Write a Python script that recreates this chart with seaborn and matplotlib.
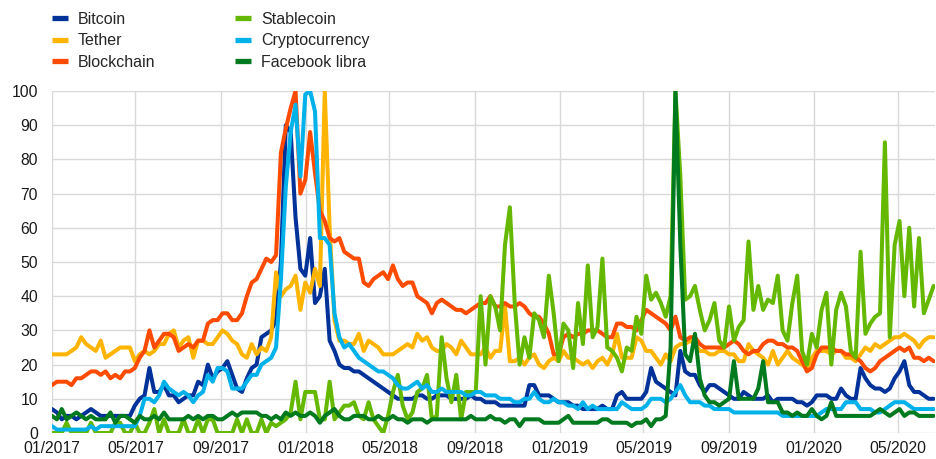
import pandas as pd
import seaborn as sns
import matplotlib
matplotlib.use('Agg')
import matplotlib.pyplot as plt
import matplotlib.dates as mdates
from matplotlib.lines import Line2D

# weekly search interest, 01/2017 - 06/2020 (index, max = 100)
weeks = pd.date_range('2017-01-01', periods=182, freq='W-SUN')

bitcoin = [7,6,4,5,5,4,5,6,7,6,
           5,5,5,5,5,5,5,8,10,11,
           19,12,12,14,11,11,9,10,11,11,
           15,14,20,16,18,19,21,17,13,12,
           16,19,20,28,29,30,33,50,90,88,
           63,48,46,57,38,40,48,27,24,20,
           19,19,18,18,17,16,15,14,13,12,
           11,10,10,10,10,11,11,10,10,11,
           11,11,10,10,10,10,11,10,10,9,
           9,9,8,8,8,8,8,8,14,14,
           11,11,11,10,9,9,9,8,8,7,
           7,7,7,8,7,7,11,12,10,10,
           10,10,12,19,15,14,13,12,11,24,
           18,17,17,14,12,14,14,13,12,11,
           10,10,12,11,10,10,10,11,9,10,
           10,10,10,9,9,8,9,11,11,11,
           10,10,13,11,10,10,19,16,14,13,
           13,12,13,16,18,21,14,12,12,11,10,10]

tether = [23,23,23,23,24,25,28,26,25,24,
          27,22,23,24,25,25,25,21,23,24,
          23,24,26,26,29,30,25,27,28,22,
          27,27,26,26,28,30,29,27,26,23,
          22,26,23,25,24,28,47,40,42,43,
          46,36,44,41,48,43,100,60,33,27,
          27,26,26,29,24,27,26,25,23,23,
          23,24,25,26,25,29,27,28,25,24,
          24,26,25,23,27,25,23,23,23,25,
          22,24,24,37,21,21,22,20,22,23,
          20,19,21,22,21,24,22,22,21,20,
          21,19,21,22,20,23,29,22,22,22,
          28,27,24,24,22,20,23,21,25,26,
          26,27,26,24,24,23,23,24,24,23,
          23,21,21,26,24,23,22,20,24,20,
          22,24,22,21,20,19,22,24,24,24,
          23,24,24,22,22,21,23,25,24,26,
          25,26,27,28,28,29,28,27,25,27,28,28]

blockchain = [14,15,15,15,14,16,16,17,18,18,
              17,18,16,17,16,18,18,19,22,24,
              30,25,27,29,29,28,24,25,26,25,
              27,27,32,33,33,35,35,33,33,35,
              40,44,45,48,51,50,52,82,89,95,
              100,70,74,88,76,65,62,57,56,57,
              53,52,51,51,44,43,45,46,47,45,
              49,45,43,44,44,40,39,38,35,38,
              39,38,37,36,36,35,36,37,38,38,
              40,37,37,38,37,37,38,37,35,34,
              34,32,29,23,23,28,29,28,29,29,
              30,30,30,29,28,28,32,32,31,31,
              30,33,36,35,34,33,32,30,34,28,
              27,28,28,26,25,25,25,25,25,26,
              27,26,24,23,24,24,26,27,27,26,
              26,25,25,24,21,18,19,23,25,25,
              25,24,24,23,23,22,21,19,18,19,
              21,22,23,24,25,24,25,22,22,21,22,21]

stablecoin = [0,0,0,3,0,0,0,0,3,0,
              0,0,0,3,3,0,0,3,0,0,
              3,7,0,4,0,0,0,4,0,0,
              4,0,4,4,0,0,0,0,4,0,
              4,0,0,4,0,3,2,3,4,6,
              15,4,12,12,12,4,4,15,4,6,
              8,8,9,5,4,9,4,2,0,5,
              12,17,8,4,6,12,13,17,4,5,
              28,16,9,17,4,12,12,12,40,20,
              40,37,30,55,66,38,20,28,22,35,
              33,28,46,35,21,32,30,19,38,26,
              49,28,31,51,25,24,22,18,25,24,
              34,29,46,39,41,38,34,40,100,75,
              39,40,43,36,30,33,38,27,25,37,
              27,31,33,56,36,43,36,39,38,46,
              30,27,38,46,24,20,29,25,36,41,
              20,36,41,37,24,22,53,29,32,34,
              35,85,28,55,62,40,60,37,57,35,39,43]

cryptocurrency = [2,1,1,1,1,1,1,1,2,1,
                  2,2,2,2,2,2,2,2,5,10,
                  10,9,11,15,13,12,11,12,11,9,
                  11,12,17,15,19,19,18,13,13,13,
                  15,17,17,20,21,22,25,45,72,88,
                  96,75,99,100,94,57,57,55,35,28,
                  25,26,24,22,21,20,19,18,18,17,
                  16,14,13,13,14,15,13,14,12,12,
                  13,12,12,12,12,11,11,12,12,11,
                  11,11,10,10,10,9,9,10,10,12,
                  10,9,9,10,9,9,8,8,7,9,
                  7,8,7,7,7,7,7,9,8,7,
                  7,7,8,10,10,10,9,10,12,14,
                  11,9,9,9,8,8,7,7,7,7,
                  6,6,6,6,6,6,6,6,6,6,
                  5,5,5,5,5,5,5,5,6,7,
                  7,7,7,9,9,9,7,7,7,6,
                  6,7,8,9,9,9,8,7,7,7,7,7]

facebook_libra = [5,4,7,4,5,6,5,4,5,4,
                  4,4,6,3,5,5,4,3,5,4,
                  4,5,4,6,4,4,4,4,5,4,
                  5,4,5,5,4,4,5,6,5,6,
                  6,6,6,5,5,4,5,4,6,5,
                  6,5,5,6,5,3,5,6,7,5,
                  4,4,5,5,5,4,4,5,4,4,
                  5,4,4,3,4,4,4,3,4,4,
                  4,4,4,4,4,4,5,4,4,4,
                  5,4,4,3,4,4,2,4,4,4,
                  4,3,3,3,3,4,5,3,3,3,
                  3,3,3,4,4,3,3,3,3,2,
                  3,3,4,2,4,4,5,25,100,55,
                  23,21,29,16,11,9,9,8,9,10,
                  21,10,10,10,10,13,21,9,9,9,
                  6,6,5,6,5,5,7,5,4,5,
                  9,5,5,5,5,5,5,5,5,6,
                  7,6,5,6,7,5,6,6,5,5,5,5]

names = ['Bitcoin', 'Tether', 'Blockchain', 'Stablecoin', 'Cryptocurrency', 'Facebook libra']
colors = ['#003299', '#FFB400', '#FF4B00', '#65B800', '#00B1EA', '#007A1E']
tick_dates = pd.date_range('2017-01-01', '2020-05-01', freq='4MS')

sns.set_theme(style='whitegrid')
plt.rcParams['font.family'] = ['Liberation Sans', 'DejaVu Sans']

df = pd.DataFrame({'Fecha': weeks, 'Bitcoin': bitcoin, 'Tether': tether,
                   'Blockchain': blockchain, 'Stablecoin': stablecoin,
                   'Cryptocurrency': cryptocurrency, 'Facebook libra': facebook_libra})
long = df.melt(id_vars='Fecha', var_name='serie', value_name='valor')

fig = plt.figure(figsize=(9.36, 4.59), dpi=100)
ax = fig.add_axes([52/936, 26/459, 883/936, 342/459])

sns.lineplot(data=long, x='Fecha', y='valor', hue='serie', hue_order=names,
             palette=dict(zip(names, colors)), linewidth=2.9, legend=False,
             estimator=None, sort=False, ax=ax)

ax.set_ylim(0, 100)
ax.set_yticks(range(0, 101, 10))
ax.set_xlim(weeks[0], weeks[-1] + pd.Timedelta(days=2))
ax.set_xticks(tick_dates)
ax.xaxis.set_major_formatter(mdates.DateFormatter('%m/%Y'))
ax.set(xlabel='', ylabel='')
ax.tick_params(axis='both', length=0, labelsize=11.3, colors='#1a1a1a')
ax.tick_params(axis='y', pad=10)
ax.tick_params(axis='x', pad=6)
ax.grid(True, color='#D9D9D9', linewidth=1)
for s in ax.spines.values():
    s.set_visible(False)

handles = [Line2D([0], [0], color=c, linewidth=3.8, solid_capstyle='butt') for c in colors]
fig.legend(handles, names, loc='upper left', bbox_to_anchor=(45.6/936, 1 - 5.5/459),
           ncol=2, frameon=False, fontsize=11.5, handlelength=1.0, handletextpad=0.63,
           labelspacing=0.4, columnspacing=5.0, borderaxespad=0)

fig.savefig('out.png', dpi=100)
